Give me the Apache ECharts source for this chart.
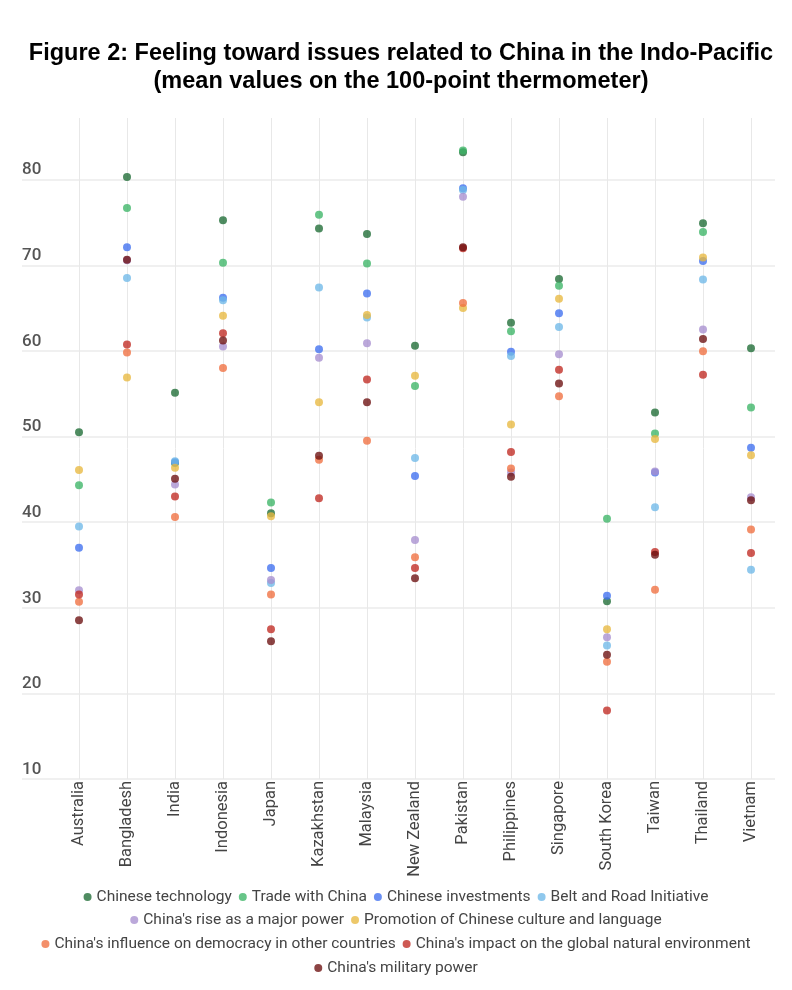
<!DOCTYPE html>
<html>
<head>
<meta charset="utf-8">
<script src="https://cdn.jsdelivr.net/npm/echarts@6/dist/echarts.min.js"></script>
<style>html,body{margin:0;padding:0;background:#fff}#c{width:792px;height:990px}</style>
</head>
<body>
<div id="c"></div>
<script>
const countries = ['Australia','Bangladesh','India','Indonesia','Japan','Kazakhstan','Malaysia','New Zealand','Pakistan','Philippines','Singapore','South Korea','Taiwan','Thailand','Vietnam'];
const yTicks = [10,20,30,40,50,60,70,80];

const chineseTechnology   = [50.5, 80.3, 55.1, 75.25, 41.05, 74.3, 73.65, 60.6, 83.2, 63.3, 68.4, 30.75, 52.8, 74.9, 60.3];
const tradeWithChina      = [44.3, 76.7, 46.9, 70.3, 42.3, 75.9, 70.2, 55.9, 83.4, 62.3, 67.6, 40.4, 50.35, 73.9, 53.4];
const chineseInvestments  = [37.0, 72.1, 47.0, 66.2, 34.65, 60.2, 66.7, 45.4, 79.0, 59.9, 64.4, 31.4, 45.8, 70.5, 48.7];
const beltAndRoad         = [39.5, 68.5, 47.1, 65.9, 32.9, 67.4, 63.9, 47.5, 78.8, 59.4, 62.8, 25.6, 41.75, 68.35, 34.45];
const riseMajorPower      = [32.05, 70.6, 44.4, 60.5, 33.25, 59.2, 60.9, 37.9, 78.0, 45.8, 59.6, 26.55, 45.9, 62.5, 42.9];
const cultureLanguage     = [46.1, 56.9, 46.35, 64.1, 40.7, 54.0, 64.2, 57.1, 65.0, 51.4, 66.1, 27.5, 49.7, 70.9, 47.8];
const influenceDemocracy  = [30.7, 59.8, 40.6, 58.0, 31.55, 47.3, 49.5, 35.9, 65.6, 46.25, 54.7, 23.7, 32.1, 59.95, 39.15];
const impactEnvironment   = [31.55, 60.75, 43.0, 62.05, 27.5, 42.8, 56.65, 34.65, 72.0, 48.2, 57.8, 18.0, 36.5, 57.2, 36.4];
const militaryPower       = [28.55, 70.65, 45.06, 61.2, 26.1, 47.75, 54.0, 33.45, 72.1, 45.3, 56.2, 24.5, 36.2, 61.4, 42.55];

const seriesNames = ['Chinese technology','Trade with China','Chinese investments','Belt and Road Initiative',"China's rise as a major power",'Promotion of Chinese culture and language',"China's influence on democracy in other countries","China's impact on the global natural environment","China's military power"];
const seriesData = [chineseTechnology, tradeWithChina, chineseInvestments, beltAndRoad, riseMajorPower, cultureLanguage, influenceDemocracy, impactEnvironment, militaryPower];
const colors = ['#1d6b35','#3cb566','#3f6ff0','#6fb8e8','#a88fd0','#e8b840','#ef7040','#c02a22','#6b1010'];

const chart = echarts.init(document.getElementById('c'), null, {renderer:'canvas'});
const legendStyle = {fontFamily:'Roboto', fontSize:15.5, color:'#444'};
function mkLegend(names, top){
  return {data:names, left:'center', top:top, icon:'circle', itemWidth:8, itemHeight:8, itemGap:7, textStyle:legendStyle, selectedMode:false};
}
chart.setOption({
  animation:false,
  color: colors,
  title:{
    text:'Figure 2: Feeling toward issues related to China in the Indo-Pacific\n(mean values on the 100-point thermometer)',
    left:396, top:35, textAlign:'center',
    textStyle:{fontFamily:'Liberation Sans, Arial', fontWeight:'bold', fontSize:23.5, color:'#000', lineHeight:28}
  },
  legend:[
    mkLegend(seriesNames.slice(0,4), 884),
    mkLegend(seriesNames.slice(4,6), 907),
    mkLegend(seriesNames.slice(6,8), 931),
    mkLegend(seriesNames.slice(8,9), 955)
  ],
  grid:[
    {left:22, right:17, top:118, bottom:211},
    {left:55, right:17, top:118, bottom:211}
  ],
  xAxis:[
    {gridIndex:0, type:'value', show:false, min:0, max:1},
    {gridIndex:1, type:'category', data:countries, boundaryGap:true,
      axisLine:{show:false},
      axisTick:{show:true, alignWithLabel:true, inside:true, length:661, lineStyle:{color:'#e8e8e8', width:1}},
      axisLabel:{rotate:90, margin:2, fontFamily:'Roboto', fontSize:16.5, color:'#444', interval:0},
      splitLine:{show:false}
    }
  ],
  yAxis:[
    {gridIndex:0, type:'value', min:10, max:87.2, interval:10,
      axisLine:{show:false}, axisTick:{show:false},
      splitLine:{show:true, showMaxLine:false, lineStyle:{color:'#ebebeb', width:1.5}},
      axisLabel:{inside:true, margin:0, verticalAlign:'bottom', padding:[0,0,1,0], fontFamily:'Roboto', fontWeight:500, fontSize:17, color:'#555', showMaxLabel:false,
        formatter: v => yTicks.indexOf(v) >= 0 ? String(v) : ''}
    },
    {gridIndex:1, type:'value', min:10, max:87.2, show:false, splitLine:{show:false}}
  ],
  series: seriesNames.map((n,i)=>({
    name:n, type:'scatter', xAxisIndex:1, yAxisIndex:1,
    symbol:'circle', symbolSize:8,
    itemStyle:{color:colors[i], opacity:0.78},
    data: seriesData[i]
  }))
});
</script>
</body>
</html>
